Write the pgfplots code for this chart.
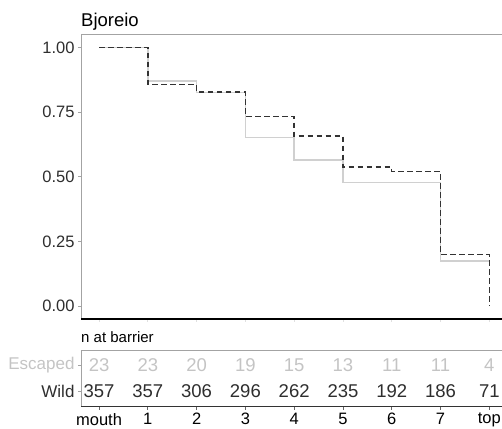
\documentclass[border=0pt]{standalone}
\usepackage{fontspec}
\setmainfont{Liberation Sans}
\usepackage{pgfplots}
\pgfplotsset{compat=1.18}
\definecolor{escgray}{HTML}{C4C4C4}
\definecolor{solidgray}{HTML}{D0D0D0}
\definecolor{dashdark}{HTML}{333333}
\definecolor{bordergray}{HTML}{A3A3A3}
\definecolor{txt}{HTML}{2E2E2E}
\begin{document}
\begin{tikzpicture}[x=1pt,y=1pt]
\begin{axis}[
  at={(81pt,109pt)}, anchor=south west, scale only axis,
  width=427.8pt, height=284.3pt,
  xmin=-0.37, xmax=8.4, ymin=-0.05, ymax=1.05,
  axis line style={draw=none},
  xtick={0,...,8}, xticklabels={},
  ytick={0,0.25,0.5,0.75,1},
  yticklabels={0.00,0.25,0.50,0.75,1.00},
  tick align=outside, xtick pos=bottom, ytick pos=left,
  major tick length=3pt,
  ytick style={color=bordergray, line width=0.8pt},
  xtick style={color=black!12, line width=0.8pt},
  yticklabel style={font=\fontsize{16.5}{18}\selectfont, text=txt},
  title={Bjoreio},
  title style={at={(0,1)}, anchor=base west, yshift=1.7pt, inner sep=0pt,
    font=\fontsize{18.5}{20}\selectfont, text=black},
]
\draw[bordergray, line width=1.2pt] (rel axis cs:0,0) -- (rel axis cs:0,1) -- (rel axis cs:1,1);
\draw[black, line width=1.1pt] (rel axis cs:0,0) -- (rel axis cs:1,0);
\addplot[const plot, solidgray, line width=1.5pt] coordinates {
  (0,1) (1,0.870) (2,0.826) (3,0.652) (4,0.565) (5,0.478) (6,0.478) (7,0.174) (8,0.174)};
\addplot[const plot, dashdark, line width=1.4pt, dash pattern=on 5.5pt off 3.5pt] coordinates {
  (0,1) (1,0.857) (2,0.829) (3,0.734) (4,0.658) (5,0.538) (6,0.521) (7,0.199) (8,0)};
\end{axis}
\begin{axis}[
  at={(81pt,21.3pt)}, anchor=south west, scale only axis,
  width=427.8pt, height=56.7pt,
  xmin=-0.37, xmax=8.4, ymin=0.4, ymax=2.6,
  axis line style={draw=none},
  xtick={0,...,8}, xticklabels={mouth,1,2,3,4,5,6,7,top},
  ytick={1,2}, yticklabels={\textcolor{txt}{Wild},\textcolor{escgray}{Escaped}},
  tick align=outside, xtick pos=bottom, ytick pos=left,
  major tick length=3pt,
  ytick style={color=bordergray, line width=0.8pt},
  xtick style={color=black!60, line width=0.8pt},
  yticklabel style={font=\fontsize{17}{19}\selectfont},
  xticklabel style={font=\fontsize{16.5}{18}\selectfont, text=black},
  title={n at barrier},
  title style={at={(0,1)}, anchor=base west, yshift=1.3pt, inner sep=0pt,
    font=\fontsize{15}{17}\selectfont, text=black},
]
\draw[bordergray, line width=1.2pt] (rel axis cs:0,0) -- (rel axis cs:0,1) -- (rel axis cs:1,1);
\draw[black!80, line width=1.1pt] (rel axis cs:0,0) -- (rel axis cs:1,0);
\addplot[draw=none, mark=none, nodes near coords, point meta=explicit symbolic,
  nodes near coords style={anchor=center, font=\fontsize{18.5}{20}\selectfont, text=escgray}]
  table[meta=n] {
x y n
0 2 23
1 2 23
2 2 20
3 2 19
4 2 15
5 2 13
6 2 11
7 2 11
8 2 4
};
\addplot[draw=none, mark=none, nodes near coords, point meta=explicit symbolic,
  nodes near coords style={anchor=center, font=\fontsize{18.5}{20}\selectfont, text=txt}]
  table[meta=n] {
x y n
0 1 357
1 1 357
2 1 306
3 1 296
4 1 262
5 1 235
6 1 192
7 1 186
8 1 71
};
\end{axis}
\pgfresetboundingbox
\path (0,0) rectangle (502,428);
\end{tikzpicture}
\end{document}
